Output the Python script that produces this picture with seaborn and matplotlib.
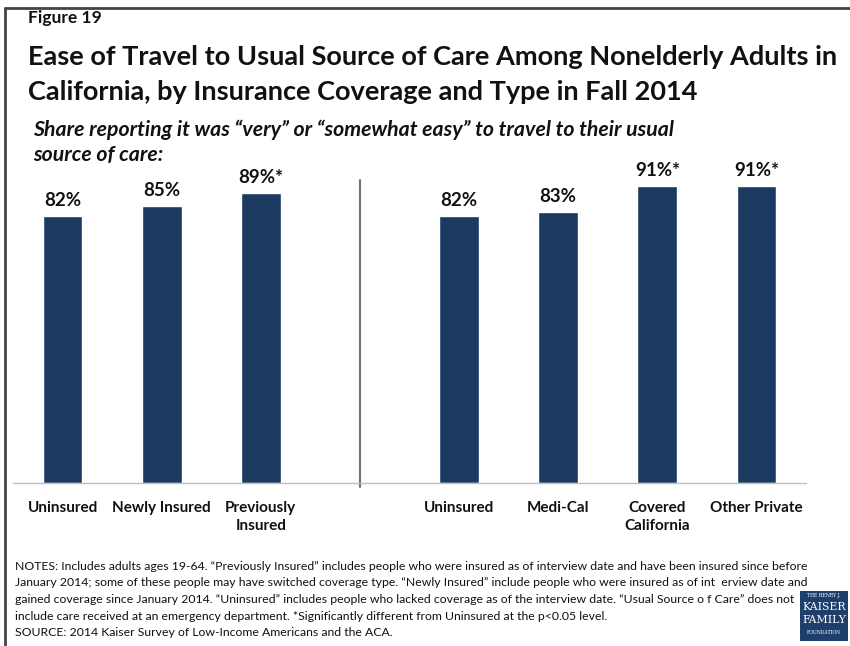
import matplotlib
matplotlib.use("Agg")
import matplotlib.pyplot as plt
from matplotlib.patches import Rectangle
import seaborn as sns
import pandas as pd
import numpy as np

# ---- data ----
left_categories = ["Uninsured", "Newly Insured", "Previously\nInsured"]
left_values = [82, 85, 89]
left_significant = [False, False, True]
right_categories = ["Uninsured", "Medi-Cal", "Covered\nCalifornia", "Other Private"]
right_values = [82, 83, 91, 91]
right_significant = [False, False, True, True]

title_lines = ["Ease of Travel to Usual Source of Care Among Nonelderly Adults in",
               "California, by Insurance Coverage and Type in Fall 2014"]
subtitle_lines = ["Share reporting it was \u201cvery\u201d or \u201csomewhat easy\u201d to travel to their usual",
                  "source of care:"]
notes_lines = [
    "NOTES: Includes adults ages 19-64. \u201cPreviously Insured\u201d includes people who were insured as of interview date and have been insured since before",
    "January 2014; some of these people may have switched coverage type. \u201cNewly Insured\u201d include people who were insured as of int  erview date and",
    "gained coverage since January 2014. \u201cUninsured\u201d includes people who lacked coverage as of the interview date. \u201cUsual Source o f Care\u201d does not",
    "include care received at an emergency department. *Significantly different from Uninsured at the p<0.05 level.",
    "SOURCE: 2014 Kaiser Survey of Low-Income Americans and the ACA.",
]

# build table: one slot per bar plus an empty divider slot between groups
slot_keys = [f"L{i}" for i in range(len(left_categories))] + ["GAP"] + \
            [f"R{i}" for i in range(len(right_categories))]
slot_labels = left_categories + [""] + right_categories
df = pd.DataFrame({
    "slot": [f"L{i}" for i in range(len(left_categories))] + [f"R{i}" for i in range(len(right_categories))],
    "value": left_values + right_values,
    "sig": left_significant + right_significant,
})

navy = "#1A3A62"
sns.set_theme(style="white")
plt.rcParams["font.family"] = ["Lato", "DejaVu Sans"]

W, H = 850, 646
fig = plt.figure(figsize=(W / 100, H / 100), dpi=100)
ax = fig.add_axes([13 / W, (H - 483) / H, (806 - 13) / W, (483 - 157) / H])

sns.barplot(data=df, x="slot", y="value", order=slot_keys, color=navy,
            width=0.40, saturation=1, ax=ax, errorbar=None)

ax.set_ylim(0, 100)
ax.set_xlim(-0.5, len(slot_keys) - 0.5)
ax.set_xlabel("")
ax.set_ylabel("")
ax.set_yticks([])
for s in ["top", "right", "left"]:
    ax.spines[s].set_visible(False)
ax.spines["bottom"].set_color("#BFBFBF")
ax.spines["bottom"].set_linewidth(1.0)

ax.set_xticks(range(len(slot_keys)))
ax.set_xticklabels(slot_labels, fontsize=11, fontweight="bold", color="#111111",
                   linespacing=1.4, va="top")
ax.tick_params(axis="x", which="major", length=0, pad=13)
ax.set_xticks(np.arange(-0.5, len(slot_keys), 1.0), minor=True)
ax.tick_params(axis="x", which="minor", length=5, color="#BFBFBF", width=1, direction="out")

# value labels
for i, key in enumerate(slot_keys):
    row = df[df["slot"] == key]
    if row.empty:
        continue
    v = int(row["value"].iloc[0])
    lab = f"{v}%" + ("*" if bool(row["sig"].iloc[0]) else "")
    ax.annotate(lab, (i, v), xytext=(0, 5), textcoords="offset points",
                ha="center", va="bottom", fontsize=13.5, fontweight="bold", color="#111111")

# divider line
gap_index = slot_keys.index("GAP")
ax.plot([gap_index, gap_index], [-1.3, 93], color="#707070", lw=1.5, clip_on=False)

# ---- texts ----
fig.text(28 / W, 1 - 18 / H, "Figure 19", fontsize=12.5, fontweight="bold", va="center", ha="left", color="#111111")
fig.text(28 / W, 1 - 57 / H, title_lines[0], fontsize=19.5, fontweight="bold", va="center", ha="left", color="#111111")
fig.text(28 / W, 1 - 92 / H, title_lines[1], fontsize=19.5, fontweight="bold", va="center", ha="left", color="#111111")
fig.text(33 / W, 1 - 130 / H, subtitle_lines[0], fontsize=15.3, fontweight="bold", style="italic", va="center", ha="left", color="#111111")
fig.text(33 / W, 1 - 155 / H, subtitle_lines[1], fontsize=15.3, fontweight="bold", style="italic", va="center", ha="left", color="#111111")

for k, line in enumerate(notes_lines):
    fig.text(15 / W, 1 - (566 + 16.7 * k) / H, line, fontsize=8.85, va="center", ha="left", color="#111111")

# border lines (top and left)
fig.add_artist(plt.Line2D([5 / W, 1], [1 - 8 / H, 1 - 8 / H], color="#444444", lw=2.0, transform=fig.transFigure))
fig.add_artist(plt.Line2D([5 / W, 5 / W], [0, 1 - 8 / H], color="#444444", lw=2.0, transform=fig.transFigure))

# logo
fig.add_artist(Rectangle((800 / W, (H - 641) / H), 48 / W, 50 / H, transform=fig.transFigure,
                         facecolor="#1E3E6C", edgecolor="none"))
fig.text(824 / W, 1 - 595 / H, "THE HENRY J.", fontsize=3.3, color="white", ha="center", va="center", family="DejaVu Serif")
fig.text(824 / W, 1 - 607 / H, "KAISER", fontsize=7.8, color="white", ha="center", va="center", family="DejaVu Serif")
fig.text(824 / W, 1 - 620 / H, "FAMILY", fontsize=7.8, color="white", ha="center", va="center", family="DejaVu Serif")
fig.text(824 / W, 1 - 633 / H, "FOUNDATION", fontsize=3.3, color="white", ha="center", va="center", family="DejaVu Serif")

fig.savefig("out.png", dpi=100, facecolor="white")
